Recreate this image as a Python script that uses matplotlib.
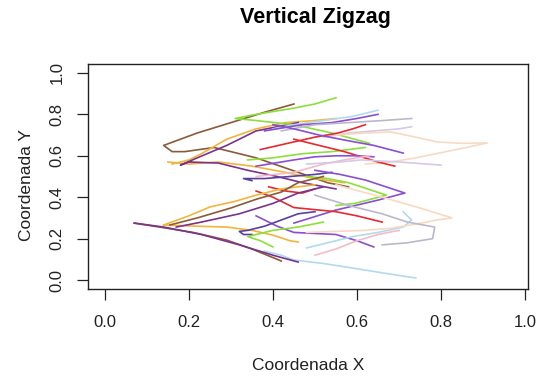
import matplotlib.pyplot as plt

plt.rcParams['font.family'] = ['Liberation Sans', 'DejaVu Sans']

# colour of each walk
brown = '#8B5A3A'
orange = '#F2B53A'
purple = '#7A338C'
violet = '#8A4FD0'
navy = '#5A3FA0'
green = '#8BE03A'
red = '#E52A30'
lightblue = '#B0DAF0'
lavender = '#D6C8E6'
peach = '#F8DAC2'
pink = '#F2BCC8'
gray = '#BDB7CB'

# each walk: (x values, y values, colour)
walks = [
    ([0.45, 0.38, 0.30, 0.22, 0.14, 0.16, 0.19, 0.26, 0.36, 0.46, 0.53, 0.58],
     [0.85, 0.81, 0.76, 0.71, 0.65, 0.62, 0.62, 0.64, 0.59, 0.52, 0.47, 0.45], brown),
    ([0.16, 0.20, 0.23, 0.29, 0.36, 0.43, 0.50, 0.55],
     [0.56, 0.58, 0.61, 0.68, 0.73, 0.76, 0.77, 0.78], orange),
    ([0.15, 0.20, 0.27, 0.35, 0.43, 0.50, 0.57],
     [0.57, 0.56, 0.57, 0.55, 0.52, 0.49, 0.47], orange),
    ([0.46, 0.41, 0.36, 0.29, 0.22, 0.18, 0.20, 0.27, 0.34, 0.41, 0.47, 0.55],
     [0.76, 0.74, 0.72, 0.65, 0.59, 0.555, 0.57, 0.565, 0.53, 0.50, 0.47, 0.44], purple),
    ([0.55, 0.50, 0.45, 0.36, 0.31, 0.36, 0.45, 0.54, 0.63],
     [0.88, 0.85, 0.83, 0.80, 0.78, 0.77, 0.75, 0.71, 0.66], green),
    ([0.34, 0.40, 0.47, 0.54, 0.62],
     [0.58, 0.59, 0.61, 0.62, 0.64], green),
    ([0.40, 0.45, 0.52, 0.59, 0.65],
     [0.73, 0.75, 0.77, 0.79, 0.82], lightblue),
    ([0.38, 0.47, 0.54, 0.60, 0.65],
     [0.72, 0.75, 0.76, 0.78, 0.80], violet),
    ([0.42, 0.50, 0.58, 0.66, 0.73],
     [0.72, 0.75, 0.76, 0.77, 0.78], gray),
    ([0.52, 0.58, 0.64, 0.70, 0.73],
     [0.69, 0.71, 0.72, 0.73, 0.74], lavender),
    ([0.55, 0.62, 0.68, 0.74, 0.79, 0.85, 0.91, 0.86, 0.80, 0.74, 0.68, 0.62],
     [0.70, 0.71, 0.715, 0.69, 0.667, 0.66, 0.662, 0.64, 0.615, 0.59, 0.57, 0.56], peach),
    ([0.37, 0.45, 0.50, 0.555, 0.59, 0.62],
     [0.63, 0.667, 0.69, 0.71, 0.73, 0.75], red),
    ([0.45, 0.49, 0.53, 0.57, 0.61, 0.65, 0.69],
     [0.68, 0.66, 0.64, 0.62, 0.595, 0.57, 0.55], red),
    ([0.40, 0.45, 0.51, 0.57, 0.64, 0.71],
     [0.75, 0.73, 0.70, 0.676, 0.65, 0.613], violet),
    ([0.36, 0.45, 0.50, 0.55, 0.60, 0.64],
     [0.55, 0.58, 0.595, 0.60, 0.60, 0.595], violet),
    ([0.36, 0.45, 0.52, 0.57, 0.63],
     [0.50, 0.52, 0.56, 0.58, 0.60], pink),
    ([0.48, 0.56, 0.61, 0.70, 0.80],
     [0.56, 0.57, 0.58, 0.57, 0.555], lavender),
    ([0.35, 0.33, 0.38, 0.44, 0.50, 0.54],
     [0.48, 0.49, 0.49, 0.50, 0.51, 0.52], navy),
    ([0.50, 0.56, 0.62, 0.714, 0.65, 0.55, 0.45],
     [0.53, 0.51, 0.483, 0.42, 0.386, 0.338, 0.275], violet),
    ([0.48, 0.53, 0.58, 0.67, 0.595, 0.55],
     [0.50, 0.49, 0.47, 0.41, 0.37, 0.36], green),
    ([0.36, 0.40, 0.45, 0.50, 0.55, 0.60, 0.66],
     [0.43, 0.40, 0.35, 0.34, 0.33, 0.31, 0.28], red),
    ([0.39, 0.43, 0.47, 0.50],
     [0.45, 0.43, 0.42, 0.44], red),
    ([0.36, 0.41, 0.45, 0.50, 0.55, 0.60, 0.64],
     [0.31, 0.26, 0.23, 0.225, 0.22, 0.19, 0.16], violet),
    ([0.48, 0.53, 0.59, 0.65, 0.71, 0.73, 0.71],
     [0.155, 0.18, 0.21, 0.23, 0.256, 0.29, 0.33], lightblue),
    ([0.38, 0.42, 0.45, 0.52, 0.59, 0.66, 0.74],
     [0.14, 0.12, 0.097, 0.08, 0.058, 0.035, 0.01], lightblue),
    ([0.48, 0.55, 0.62, 0.68, 0.74, 0.79, 0.826, 0.73, 0.66, 0.595, 0.55],
     [0.23, 0.235, 0.24, 0.25, 0.27, 0.29, 0.30, 0.36, 0.40, 0.435, 0.46], peach),
    ([0.50, 0.58, 0.66, 0.72, 0.785, 0.78, 0.72, 0.66],
     [0.41, 0.36, 0.32, 0.28, 0.256, 0.20, 0.18, 0.17], gray),
    ([0.50, 0.55, 0.60, 0.65, 0.70],
     [0.12, 0.15, 0.19, 0.22, 0.24], pink),
    ([0.14, 0.20, 0.25, 0.31, 0.36, 0.42, 0.46, 0.50],
     [0.266, 0.31, 0.353, 0.38, 0.41, 0.44, 0.45, 0.46], orange),
    ([0.14, 0.22, 0.29, 0.35, 0.40, 0.44, 0.46],
     [0.266, 0.26, 0.256, 0.24, 0.217, 0.19, 0.184], orange),
    ([0.07, 0.13, 0.21, 0.29, 0.35, 0.42],
     [0.275, 0.256, 0.23, 0.193, 0.15, 0.092], brown),
    ([0.07, 0.14, 0.23, 0.32, 0.40, 0.46],
     [0.275, 0.256, 0.22, 0.17, 0.12, 0.087], purple),
    ([0.155, 0.22, 0.30, 0.36, 0.42, 0.46, 0.52],
     [0.266, 0.30, 0.348, 0.39, 0.425, 0.47, 0.50], brown),
    ([0.17, 0.23, 0.32, 0.40, 0.46, 0.52],
     [0.256, 0.28, 0.32, 0.37, 0.42, 0.45], purple),
    ([0.35, 0.33, 0.32, 0.34, 0.38, 0.42, 0.46, 0.50],
     [0.22, 0.22, 0.235, 0.24, 0.26, 0.29, 0.32, 0.33], navy),
    ([0.40, 0.37, 0.34, 0.40, 0.46, 0.52],
     [0.16, 0.19, 0.21, 0.24, 0.256, 0.28], green),
]

ticks = [0.0, 0.2, 0.4, 0.6, 0.8, 1.0]
tick_labels = ['0.0', '0.2', '0.4', '0.6', '0.8', '1.0']

fig = plt.figure(figsize=(5.44, 3.76), dpi=100)
ax = fig.add_axes([0.1618, 0.2314, 0.8088, 0.5984])

for xs, ys, col in walks:
    ax.plot(xs, ys, color=col, lw=1.2, solid_joinstyle='round')

ax.set_xlim(-0.04, 1.007)
ax.set_ylim(-0.043, 1.043)
ax.set_xticks(ticks)
ax.set_xticklabels(tick_labels)
ax.set_yticks(ticks)
ax.set_yticklabels(tick_labels, rotation=90, va='center')
ax.tick_params(length=8, width=0.9, labelsize=12, colors='#222222')
ax.tick_params(axis='x', pad=11)
ax.tick_params(axis='y', pad=9)
for s in ax.spines.values():
    s.set_linewidth(1.0)
    s.set_color('#222222')

ax.set_xlabel('Coordenada X', fontsize=12.5, color='#222222', va='center')
ax.xaxis.set_label_coords(0.5, -0.338)
ax.set_ylabel('Coordenada Y', fontsize=12.5, color='#222222', va='center')
ax.yaxis.set_label_coords(-0.14, 0.46)

fig.text(0.58, 1 - 18 / 376, 'Vertical Zigzag', ha='center', va='center',
         fontsize=15.5, fontweight='bold')

fig.savefig('out.png', dpi=100)
